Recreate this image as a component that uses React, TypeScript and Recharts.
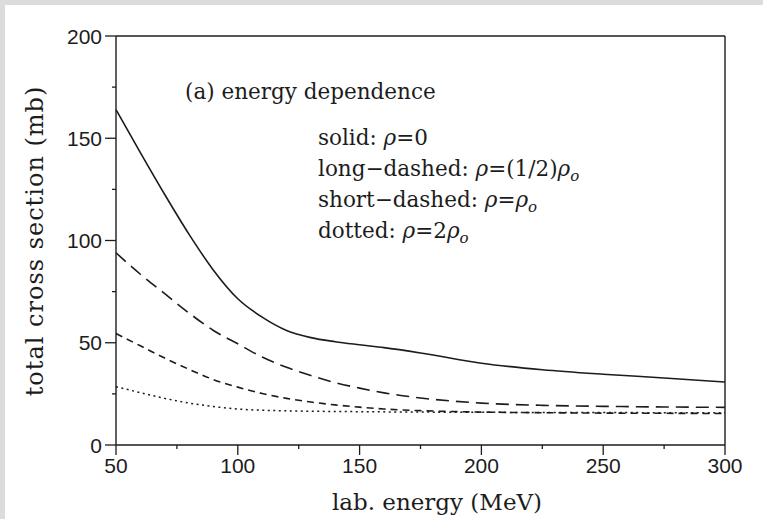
import { Customized, Line, LineChart, ReferenceLine, XAxis, YAxis } from 'recharts';

// lab. energy (MeV) and total cross section (mb) for the four densities
const energy = [50, 60, 70, 80, 90, 100, 110, 120, 130, 140, 150, 160, 175, 200, 225, 250, 275, 300];
const rhoZero = [164, 143, 122.5, 103, 85.5, 71.5, 62.5, 56, 52.5, 50.5, 49, 47.6, 45, 40, 36.8, 34.6, 32.8, 30.8];
const rhoHalf = [94, 83.5, 74, 64.5, 56, 49.5, 43, 38, 34, 30.5, 27.8, 25.5, 23, 20.5, 19.4, 18.9, 18.6, 18.4];
const rhoOne = [54.5, 48.5, 42.5, 37, 32, 28.3, 25.2, 22.8, 21, 19.6, 18.5, 17.6, 16.8, 16.1, 15.8, 15.6, 15.5, 15.4];
const rhoTwo = [28.5, 25.6, 22.8, 20.5, 18.8, 17.6, 17, 16.7, 16.5, 16.4, 16.3, 16.2, 16.1, 16, 15.9, 15.9, 15.8, 15.8];

const xTicks = [50, 75, 100, 125, 150, 175, 200, 225, 250, 275, 300];
const yTicks = [0, 25, 50, 75, 100, 125, 150, 175, 200];

const data = energy.map((e, i) => ({
  e,
  solid: rhoZero[i],
  half: rhoHalf[i],
  one: rhoOne[i],
  two: rhoTwo[i],
}));

const ink = '#1c1c1c';
const sans = '"Liberation Sans", Arial, sans-serif';
const serif = '"DejaVu Serif", serif';

const XTick = (props: any) => {
  const { x, y, payload } = props;
  const major = payload.value % 50 === 0;
  return (
    <g>
      <line x1={x} x2={x} y1={y} y2={y + (major ? 10 : 4)} stroke={ink} strokeWidth={1.3} />
      {major && (
        <text x={x} y={y + 28} textAnchor="middle" fontFamily={sans} fontSize={21} fill={ink}>
          {payload.value}
        </text>
      )}
    </g>
  );
};

const YTick = (props: any) => {
  const { x, y, payload } = props;
  const major = payload.value % 50 === 0;
  return (
    <g>
      <line x1={x - (major ? 11 : 4)} x2={x} y1={y} y2={y} stroke={ink} strokeWidth={1.3} />
      {major && (
        <text x={x - 14} y={y + 7.5} textAnchor="end" fontFamily={sans} fontSize={21} fill={ink}>
          {payload.value}
        </text>
      )}
    </g>
  );
};

const Rho = () => <tspan fontStyle="italic">ρ</tspan>;
const Sub = () => (
  <tspan fontStyle="italic" fontSize={15} dy={5}>
    o
  </tspan>
);

const Notes = () => (
  <g fontFamily={serif} fill={ink}>
    <text x={180} y={94} fontSize={21.5}>(a) energy dependence</text>
    <text x={313} y={140} fontSize={21.5}>solid: <Rho />=0</text>
    <text x={313} y={171} fontSize={21.5}>
      long−dashed: <Rho />=(1/2)<Rho />
      <Sub />
    </text>
    <text x={313} y={202} fontSize={21.5}>
      short−dashed: <Rho />=<Rho />
      <Sub />
    </text>
    <text x={313} y={233} fontSize={21.5}>
      dotted: <Rho />=2<Rho />
      <Sub />
    </text>
    <text x={432} y={505} fontSize={23} textAnchor="middle">lab. energy (MeV)</text>
    <text
      x={38}
      y={236}
      fontSize={24}
      letterSpacing={1}
      textAnchor="middle"
      transform="rotate(-90, 38, 236)"
    >
      total cross section (mb)
    </text>
  </g>
);

export default function App() {
  return (
    <div style={{ position: 'absolute', left: 0, top: 0, width: 763, height: 519, background: '#dcdcdc' }}>
      <div style={{ position: 'absolute', left: 5, top: 5, width: 758, height: 514, background: '#fff' }}>
        <LineChart width={758} height={514} data={data} margin={{ top: 31, right: 38, left: 0, bottom: 0 }}>
          <XAxis
            dataKey="e"
            type="number"
            domain={[50, 300]}
            ticks={xTicks}
            interval={0}
            height={74}
            tickLine={false}
            tickSize={0}
            tickMargin={0}
            tick={<XTick />}
            axisLine={{ stroke: ink, strokeWidth: 1.4 }}
          />
          <YAxis
            type="number"
            domain={[0, 200]}
            ticks={yTicks}
            interval={0}
            width={111}
            tickLine={false}
            tickSize={0}
            tickMargin={0}
            tick={<YTick />}
            axisLine={{ stroke: ink, strokeWidth: 1.4 }}
          />
          <ReferenceLine y={200} stroke={ink} strokeWidth={1.4} />
          <ReferenceLine x={300} stroke={ink} strokeWidth={1.4} />
          <Line type="monotone" dataKey="solid" stroke={ink} strokeWidth={1.6} dot={false} isAnimationActive={false} />
          <Line type="monotone" dataKey="half" stroke={ink} strokeWidth={1.6} strokeDasharray="13 7" dot={false} isAnimationActive={false} />
          <Line type="monotone" dataKey="one" stroke={ink} strokeWidth={1.6} strokeDasharray="7 5" dot={false} isAnimationActive={false} />
          <Line type="monotone" dataKey="two" stroke={ink} strokeWidth={1.5} strokeDasharray="2 3.5" dot={false} isAnimationActive={false} />
          <Customized component={Notes} />
        </LineChart>
      </div>
    </div>
  );
}
